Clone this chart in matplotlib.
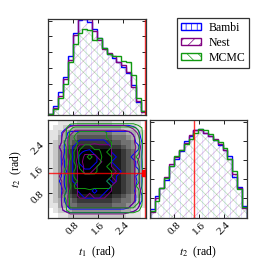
import numpy as np
import matplotlib
matplotlib.use("Agg")
import matplotlib.pyplot as plt
from matplotlib.patches import Patch
from matplotlib.ticker import MultipleLocator

plt.rcParams["font.family"] = ["Liberation Serif", "DejaVu Serif"]
plt.rcParams["mathtext.fontset"] = "stix"
plt.rcParams["hatch.linewidth"] = 0.5

# marginal histograms (20 bins on [0, pi]), relative heights
t1_bambi = [0.02, 0.10, 0.24, 0.40, 0.62, 0.86, 0.99, 1.00, 0.97, 0.90,
            0.80, 0.70, 0.64, 0.60, 0.55, 0.50, 0.44, 0.32, 0.14, 0.05]
t1_nest = [0.01, 0.08, 0.20, 0.38, 0.58, 0.84, 1.00, 1.00, 1.00, 0.88,
           0.78, 0.69, 0.65, 0.62, 0.56, 0.52, 0.45, 0.30, 0.15, 0.04]
t1_mcmc = [0.01, 0.07, 0.18, 0.33, 0.55, 0.74, 0.86, 0.90, 0.89, 0.78,
           0.80, 0.70, 0.64, 0.62, 0.62, 0.57, 0.55, 0.42, 0.18, 0.05]

t2_bambi = [0.09, 0.22, 0.30, 0.39, 0.53, 0.60, 0.69, 0.79, 0.84, 0.90,
            0.91, 0.87, 0.84, 0.80, 0.75, 0.70, 0.63, 0.42, 0.32, 0.12]
t2_nest = [0.06, 0.20, 0.30, 0.42, 0.55, 0.62, 0.70, 0.77, 0.85, 0.90,
           0.90, 0.87, 0.84, 0.81, 0.76, 0.70, 0.60, 0.45, 0.30, 0.10]
t2_mcmc = [0.07, 0.17, 0.30, 0.41, 0.53, 0.63, 0.70, 0.76, 0.81, 0.87,
           0.91, 0.90, 0.86, 0.80, 0.78, 0.72, 0.60, 0.48, 0.29, 0.11]

# 2-D histogram shading (0 = white, 9 = black), rows from t2 high to low
joint_image = [
    "00111122222221111110",
    "01122333333333322210",
    "11234455555554443321",
    "11335566666665554321",
    "12345677777776655421",
    "12446788888887765431",
    "12457899999998876531",
    "12457899999998876531",
    "12457899999998876531",
    "12457899999998876531",
    "12457899999998876531",
    "12457899999998876531",
    "12457899999998876531",
    "12457899999998876531",
    "12457899999998876531",
    "12446788888887765431",
    "12345677777776655421",
    "11335566666665554321",
    "01223444444444433210",
    "00112222222222221110",
]

# joint density levels used for the contours, rows from t2 high to low
joint_bambi = [
    "01112222222222222110",
    "01223333333333333321",
    "01245555555555555431",
    "11246666666666665532",
    "11256677777766665542",
    "11356777877776665552",
    "11256789988776665542",
    "11266799998777665442",
    "11256799998876665542",
    "11256789988777665542",
    "11246788887777765552",
    "11256778877777665542",
    "11356777887767665642",
    "11256677777776665542",
    "11246677767766665532",
    "11256667777666665542",
    "11256666666666666542",
    "01246666666666665431",
    "01234444444444444321",
    "00111111111111111100",
]
joint_nest = [
    "00111111111111111100",
    "01123444444444443210",
    "01234555555555555421",
    "11245666666666655531",
    "11245666666666655531",
    "11345677787776655541",
    "11245678888776655531",
    "11245679998876655531",
    "11235689999876655521",
    "11245679998776655531",
    "11245679988777655531",
    "11345678887776656531",
    "11245677877777655531",
    "11245677777876655531",
    "11235677777776655541",
    "11245677677766655531",
    "11245666666666655531",
    "11245555555555555431",
    "01234444444444444320",
    "00112222222222221100",
]
joint_mcmc = [
    "01112222222222222211",
    "01124555555555555542",
    "11125677777766665552",
    "11125778887766665552",
    "11135678888776665562",
    "11125689988776665552",
    "11125799999766665552",
    "11124799899876665542",
    "11125799999776665552",
    "11125699998766665552",
    "11135789998876666552",
    "11125788888776665552",
    "11125678887766665552",
    "11124777877776665542",
    "11125666666666665552",
    "11135666666666666552",
    "11125666666666665552",
    "01125555555555555542",
    "01124444444444444431",
    "00111111111111111100",
]

true_t1 = 3.12
true_t2 = 1.43
labels = ["Bambi", "Nest", "MCMC"]
colors = ["#0000ff", "#800080", "#119911"]
hatches = ["|||", "///", "\\\\\\"]


def grid(rows):
    return np.array([[int(c) for c in r] for r in rows[::-1]], dtype=float)


edges = np.linspace(0, np.pi, 21)
centers = 0.5 * (edges[:-1] + edges[1:])

fig = plt.figure(figsize=(2.66, 2.66), dpi=100)
ax1 = fig.add_axes([0.182, 0.566, 0.365, 0.362])
ax2 = fig.add_axes([0.182, 0.182, 0.365, 0.365])
ax3 = fig.add_axes([0.563, 0.182, 0.365, 0.365])


def marginal(ax, series):
    for vals, c, h, a in zip(series, colors, hatches, [0.15, 0.3, 0.3]):
        ax.stairs(vals, edges, fill=True, facecolor="none", hatch=h,
                  edgecolor=c, alpha=a, linewidth=0)
    for vals, c in zip(series, colors):
        ax.stairs(vals, edges, color=c, linewidth=1.0)


marginal(ax1, [t1_bambi, t1_nest, t1_mcmc])
ax1.axvline(true_t1, color="red", alpha=0.8, lw=1)
ax1.set_xlim(0, np.pi)
ax1.set_ylim(0, 1.0)
ax1.yaxis.set_major_locator(MultipleLocator(0.164))
ax1.set_xticks([0.8, 1.6, 2.4])
ax1.set_xticklabels([])
ax1.set_yticklabels([])

marginal(ax3, [t2_bambi, t2_nest, t2_mcmc])
ax3.axvline(true_t2, color="red", alpha=0.8, lw=1)
ax3.set_xlim(0, np.pi)
ax3.set_ylim(0, 1.0)
ax3.yaxis.set_major_locator(MultipleLocator(0.197))
ax3.set_xticks([0.8, 1.6, 2.4])
ax3.set_yticklabels([])
ax3.set_xticklabels(["0.8", "1.6", "2.4"], rotation=45)
ax3.set_xlabel("$t_2$  (rad)", fontsize=8.5, labelpad=6)

ax2.imshow(grid(joint_image), extent=[0, np.pi, 0, np.pi], origin="lower",
           cmap="gray_r", vmin=0, vmax=9, interpolation="nearest",
           aspect="auto")
for rows, c in zip([joint_bambi, joint_nest, joint_mcmc], colors):
    ax2.contour(centers, centers, grid(rows), levels=[2.5, 4.5, 6.5, 8.5],
                colors=c, linewidths=0.7)
ax2.axvline(true_t1, color="red", alpha=0.8, lw=1)
ax2.axhline(true_t2, color="red", alpha=0.8, lw=1)
ax2.plot([true_t1], [true_t2], "s", color="red", ms=4)
ax2.set_xlim(0, np.pi)
ax2.set_ylim(0, np.pi)
ax2.set_xticks([0.8, 1.6, 2.4])
ax2.set_yticks([0.8, 1.6, 2.4])
ax2.set_xticklabels(["0.8", "1.6", "2.4"], rotation=45)
ax2.set_yticklabels(["0.8", "1.6", "2.4"], rotation=45)
ax2.set_xlabel("$t_1$  (rad)", fontsize=8.5, labelpad=6)
ax2.set_ylabel("$t_2$  (rad)", fontsize=8.5, labelpad=4)

for ax in (ax1, ax2, ax3):
    ax.tick_params(direction="in", top=True, right=True, length=3,
                   width=0.6, labelsize=8, pad=2)
    for s in ax.spines.values():
        s.set_linewidth(0.9)
        s.set_color("#333333")

handles = [Patch(facecolor="white", edgecolor=c, hatch=h)
           for c, h in zip(colors, hatches)]
leg = fig.legend(handles, labels, loc="upper right",
                 bbox_to_anchor=(0.96, 0.956), fontsize=8.5, fancybox=False,
                 framealpha=1, edgecolor="#333333", handlelength=1.7,
                 handleheight=0.5, borderpad=0.35, labelspacing=0.25,
                 handletextpad=0.6)
leg.get_frame().set_linewidth(0.9)

fig.savefig("out.png", dpi=100)
